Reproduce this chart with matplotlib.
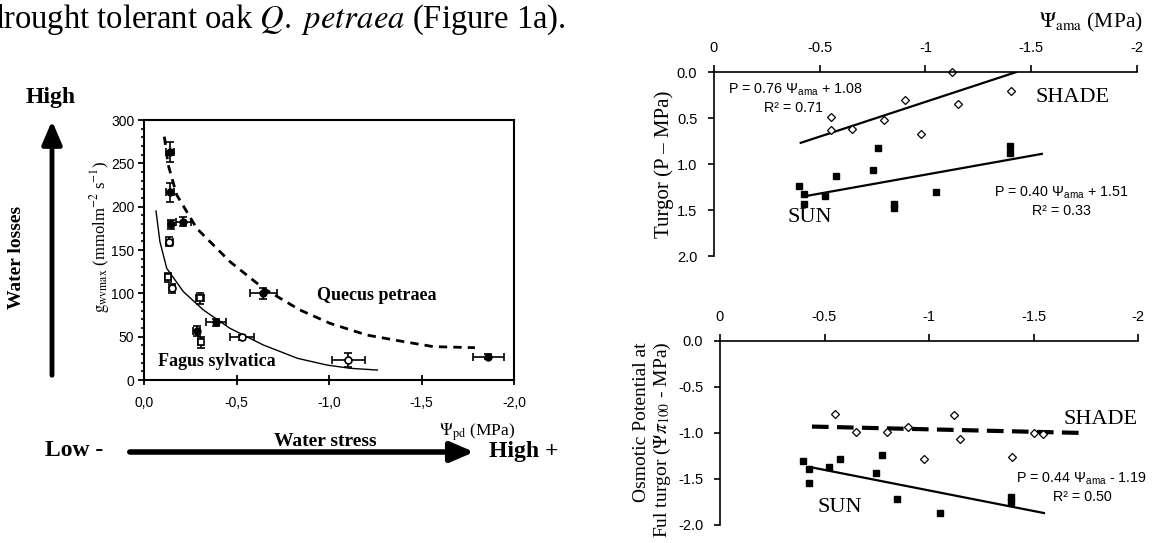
import matplotlib
matplotlib.use("Agg")
import matplotlib.pyplot as plt
from matplotlib.ticker import MultipleLocator

plt.rcParams['font.family'] = ['Liberation Sans', 'DejaVu Sans']
plt.rcParams['mathtext.fontset'] = 'custom'
plt.rcParams['mathtext.rm'] = 'Liberation Sans'
plt.rcParams['mathtext.it'] = 'Liberation Sans:italic'
plt.rcParams['mathtext.bf'] = 'Liberation Sans:bold'
SERIF = ['Liberation Serif', 'DejaVu Serif']

# ---- left panel: gwvmax vs predawn water potential ----
quercus_x = [-0.14, -0.14, -0.144, -0.213, -0.645, -0.389, -0.285, -1.861]
quercus_y = [263.5, 216.5, 179.6, 182.7, 100, 66.5, 56.5, 27]
quercus_xerr = [0.02, 0.02, 0.015, 0.04, 0.072, 0.052, 0.02, 0.085]
quercus_yerr = [11.5, 11, 5, 5, 6, 4, 6, 3]

fagus_x = [-0.137, -0.131, -0.15, -0.303, -0.306, -0.528, -1.104]
fagus_y = [159.6, 118.5, 105.8, 94.2, 43.5, 49.3, 23.1]
fagus_xerr = [0.02, 0.015, 0.015, 0.02, 0.015, 0.065, 0.09]
fagus_yerr = [5, 5, 5, 6, 6, 3, 7.7]
fagus_marker = ['o', 's', 'o', 's', 's', 'o', 'o']

quercus_fit_x = [-0.11, -0.131, -0.177, -0.285, -0.465, -0.645, -0.843, -1.005, -1.204, -1.384, -1.564, -1.789]
quercus_fit_y = [280.8, 248, 213.5, 175, 136.5, 105.8, 80.8, 65.4, 51.9, 45, 38.5, 37.3]
fagus_fit_x = [-0.065, -0.086, -0.123, -0.213, -0.321, -0.465, -0.645, -0.83, -0.988, -1.114, -1.261]
fagus_fit_y = [195, 159.6, 128.8, 101.9, 80.8, 59.6, 40.4, 25, 17.3, 13.5, 11.5]

left_xticks = [0, -0.5, -1.0, -1.5, -2.0]
left_xlabels = ['0,0', '-0,5', '-1,0', '-1,5', '-2,0']

# ---- top right: turgor vs Psi_ama ----
shade_turgor_x = [-1.127, -1.403, -0.903, -1.152, -0.553, -0.553, -0.651, -0.802, -0.979]
shade_turgor_y = [0.0, 0.21, 0.30, 0.35, 0.49, 0.63, 0.62, 0.52, 0.67]
sun_turgor_x = [-0.402, -0.426, -0.426, -0.523, -0.575, -0.774, -0.753, -0.851, -0.851, -1.051, -1.401, -1.401]
sun_turgor_y = [1.24, 1.33, 1.43, 1.35, 1.13, 0.83, 1.06, 1.43, 1.48, 1.30, 0.80, 0.88]
shade_turgor_fit_x = [-0.41, -1.43]
shade_turgor_fit_y = [0.77, 0.0]
sun_turgor_fit_x = [-0.43, -1.55]
sun_turgor_fit_y = [1.35, 0.89]

# ---- bottom right: osmotic potential at full turgor ----
shade_osm_x = [-0.55, -0.651, -0.799, -0.901, -1.121, -1.15, -0.975, -1.399, -1.502, -1.547]
shade_osm_y = [-0.79, -0.99, -0.99, -0.93, -0.80, -1.07, -1.28, -1.26, -1.00, -1.01]
sun_osm_x = [-0.396, -0.426, -0.426, -0.523, -0.573, -0.777, -0.748, -0.845, -1.051, -1.392, -1.392]
sun_osm_y = [-1.30, -1.39, -1.54, -1.37, -1.28, -1.24, -1.43, -1.72, -1.87, -1.70, -1.75]
shade_osm_fit_x = [-0.44, -1.74]
shade_osm_fit_y = [-0.93, -1.00]
sun_osm_fit_x = [-0.43, -1.55]
sun_osm_fit_y = [-1.37, -1.87]

right_xticks = [0, -0.5, -1, -1.5, -2]
right_xlabels = ['0', '-0.5', '-1', '-1.5', '-2']
turgor_yticks = [0, 0.5, 1.0, 1.5, 2.0]
turgor_ylabels = ['0.0', '0.5', '1.0', '1.5', '2.0']
osm_yticks = [0, -0.5, -1.0, -1.5, -2.0]
osm_ylabels = ['0.0', '-0.5', '-1.0', '-1.5', '-2.0']

W, H = 1153, 543
fig = plt.figure(figsize=(W / 100, H / 100), dpi=100)


def box(l, t, r, b):
    return [l / W, 1 - b / H, (r - l) / W, (b - t) / H]


def ftext(x, y, s, **kw):
    return fig.text(x / W, 1 - y / H, s, **kw)


# header line of the page (first letter cut off)
ftext(-13, 28, r"drought tolerant oak $\mathit{Q.\ petraea}$ (Figure 1a).",
      family=SERIF, math_fontfamily='stix', fontsize=23.5, ha='left', va='baseline')

# left panel
ax1 = fig.add_axes(box(144, 120, 514, 380))
ax1.plot(quercus_fit_x, quercus_fit_y, color='k', lw=2, ls=(0, (3, 2.2)))
ax1.plot(fagus_fit_x, fagus_fit_y, color='k', lw=1)
ax1.errorbar(quercus_x, quercus_y, xerr=quercus_xerr, yerr=quercus_yerr, fmt='o',
             color='k', ms=5, capsize=3, elinewidth=1.2, capthick=1.2)
for i in range(len(fagus_x)):
    ax1.errorbar(fagus_x[i], fagus_y[i], xerr=fagus_xerr[i], yerr=fagus_yerr[i],
                 fmt=fagus_marker[i], mfc='white', mec='k', mew=1.2, color='k',
                 ms=5, capsize=3, elinewidth=1.2, capthick=1.2)
ax1.set_xlim(0, -2)
ax1.set_ylim(0, 300)
ax1.set_xticks(left_xticks)
ax1.set_xticklabels(left_xlabels)
ax1.yaxis.set_major_locator(MultipleLocator(50))
ax1.yaxis.set_minor_locator(MultipleLocator(10))
ax1.tick_params(axis='x', direction='inout', length=7, width=1.3, labelsize=10, pad=8)
ax1.tick_params(axis='y', which='major', direction='out', length=4, width=1.3, labelsize=10, pad=3)
ax1.tick_params(axis='y', which='minor', direction='out', length=2.5, width=1.2)
for sp in ax1.spines.values():
    sp.set_linewidth(1.5)

ftext(377, 295, "Quecus petraea", family=SERIF, fontweight='bold', fontsize=13, ha='center', va='center')
ftext(217, 362, "Fagus sylvatica", family=SERIF, fontweight='bold', fontsize=13, ha='center', va='center')
ftext(100, 237, r"$\mathrm{g}_{\mathrm{wvmax}}$ (mmolm$^{-2}$ s$^{-1}$)", family=SERIF,
      math_fontfamily='stix', fontsize=12, rotation=90, ha='center', va='center')
ftext(477, 432, r"$\Psi_{\mathrm{pd}}$ (MPa)", family=SERIF, math_fontfamily='stix',
      fontsize=12.5, ha='center', va='center')

# stress arrows
fig.add_artist(matplotlib.patches.FancyArrowPatch(
    (52 / W, 1 - 378 / H), (52 / W, 1 - 118 / H), transform=fig.transFigure,
    arrowstyle='-|>,head_length=0.7,head_width=0.3', mutation_scale=20, lw=3.5, color='k'))
fig.add_artist(matplotlib.patches.FancyArrowPatch(
    (127 / W, 1 - 452 / H), (477 / W, 1 - 452 / H), transform=fig.transFigure,
    arrowstyle='-|>,head_length=0.7,head_width=0.3', mutation_scale=20, lw=4, color='k'))
ftext(51, 98, "High", family=SERIF, fontweight='bold', fontsize=17, ha='center', va='center')
ftext(17, 257, "Water losses", family=SERIF, fontweight='bold', fontsize=14, rotation=90,
      ha='center', va='center')
ftext(74, 450, "Low -", family=SERIF, fontweight='bold', fontsize=17, ha='center', va='center')
ftext(524, 452, "High +", family=SERIF, fontweight='bold', fontsize=17, ha='center', va='center')
ftext(325, 441, "Water stress", family=SERIF, fontweight='bold', fontsize=14, ha='center', va='center')

# top right panel
ax2 = fig.add_axes(box(714, 72, 1137, 256))
ax2.plot(shade_turgor_fit_x, shade_turgor_fit_y, color='k', lw=1.6)
ax2.plot(sun_turgor_fit_x, sun_turgor_fit_y, color='k', lw=1.6)
ax2.plot(shade_turgor_x, shade_turgor_y, 'D', mfc='white', mec='k', mew=0.9, ms=4, clip_on=False)
ax2.plot(sun_turgor_x, sun_turgor_y, 's', color='k', ms=4.5, clip_on=False)
ax2.set_xlim(0, -2)
ax2.set_ylim(2, 0)

# bottom right panel
ax3 = fig.add_axes(box(720, 341, 1138, 525))
ax3.plot(shade_osm_fit_x, shade_osm_fit_y, color='k', lw=3, ls=(0, (4, 2)))
ax3.plot(sun_osm_fit_x, sun_osm_fit_y, color='k', lw=1.6)
ax3.plot(shade_osm_x, shade_osm_y, 'D', mfc='white', mec='k', mew=0.9, ms=4, clip_on=False)
ax3.plot(sun_osm_x, sun_osm_y, 's', color='k', ms=4.5, clip_on=False)
ax3.set_xlim(0, -2)
ax3.set_ylim(-2, 0)

for ax, yt, yl in [(ax2, turgor_yticks, turgor_ylabels), (ax3, osm_yticks, osm_ylabels)]:
    ax.xaxis.tick_top()
    ax.set_xticks(right_xticks)
    ax.set_xticklabels(right_xlabels)
    ax.set_yticks(yt)
    ax.set_yticklabels(yl)
    ax.spines['right'].set_visible(False)
    ax.spines['bottom'].set_visible(False)
    ax.spines['top'].set_linewidth(1.2)
    ax.spines['left'].set_linewidth(1.2)
    ax.tick_params(axis='x', direction='out', length=5, width=1.2, labelsize=10.5, pad=7.5)
    ax.tick_params(axis='y', direction='out', length=4, width=1.2, labelsize=10.5, pad=8)

sans_kw = dict(fontsize=10.3, ha='center', va='center')
ftext(795, 90, r"P = 0.76 $\Psi_{\mathrm{ama}}$ + 1.08", **sans_kw)
ftext(793, 108, "R² = 0.71", **sans_kw)
ftext(1061, 193, r"P = 0.40 $\Psi_{\mathrm{ama}}$ + 1.51", **sans_kw)
ftext(1062, 211, "R² = 0.33", **sans_kw)
ftext(1082, 479, r"P = 0.44 $\Psi_{\mathrm{ama}}$ - 1.19", **sans_kw)
ftext(1082, 497, "R² = 0.50", **sans_kw)

serif_kw = dict(family=SERIF, fontsize=16, ha='center', va='center')
ftext(1073, 98, "SHADE", **serif_kw)
ftext(810, 218, "SUN", **serif_kw)
ftext(1101, 420, "SHADE", **serif_kw)
ftext(840, 507, "SUN", **serif_kw)

ftext(1143, 22, r"$\Psi_{\mathrm{ama}}$ (MPa)", family=SERIF, math_fontfamily='stix',
      fontsize=15.5, ha='right', va='center')
ftext(664, 164, "Turgor (P – MPa)", family=SERIF, fontsize=15, rotation=90, ha='center', va='center')
ftext(641, 342, "Osmotic Potential at", family=SERIF, fontsize=14, rotation=90, ha='center', va='top')
ftext(662, 342, r"Ful turgor ($\Psi\pi_{100}$ - MPa)", family=SERIF, math_fontfamily='stix',
      fontsize=14, rotation=90, ha='center', va='top')

fig.savefig("out.png", dpi=100)
